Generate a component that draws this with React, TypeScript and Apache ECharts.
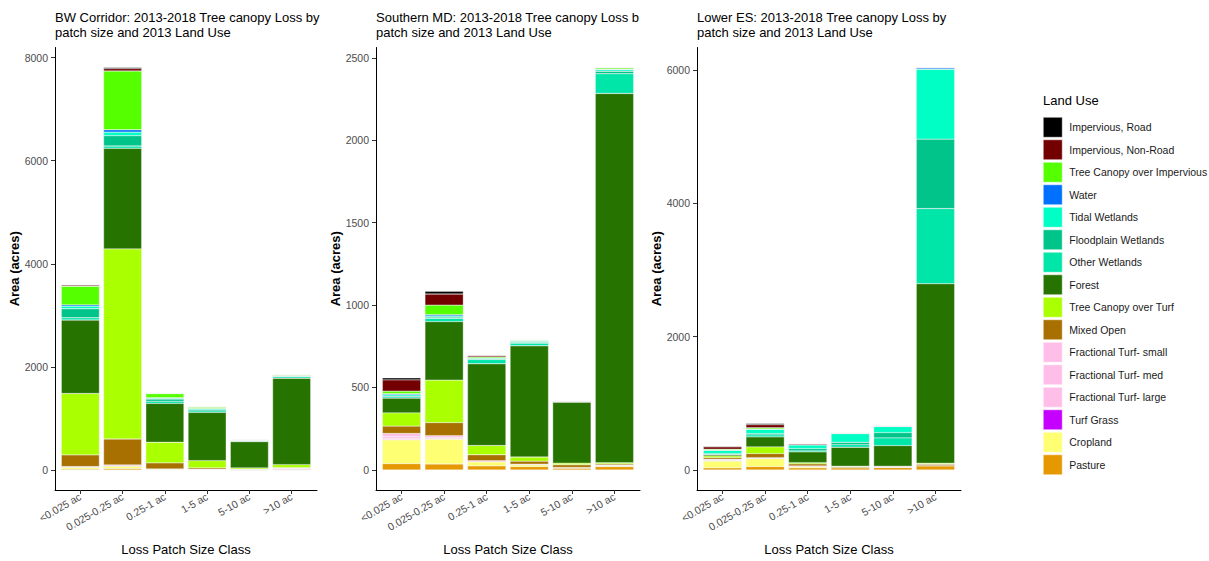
import React, { useEffect, useRef } from "react";
import * as echarts from "echarts";

const FONT = "'Liberation Sans', Arial, Helvetica, sans-serif";

const categories = ["<0.025 ac", "0.025-0.25 ac", "0.25-1 ac", "1-5 ac", "5-10 ac", ">10 ac"];

const landUses = [
  "Impervious, Road",
  "Impervious, Non-Road",
  "Tree Canopy over Impervious",
  "Water",
  "Tidal Wetlands",
  "Floodplain Wetlands",
  "Other Wetlands",
  "Forest",
  "Tree Canopy over Turf",
  "Mixed Open",
  "Fractional Turf- small",
  "Fractional Turf- med",
  "Fractional Turf- large",
  "Turf Grass",
  "Cropland",
  "Pasture",
];

const landUseColors = [
  "#000000",
  "#730000",
  "#55FF00",
  "#0070FF",
  "#00FFC5",
  "#00C48A",
  "#00E6A9",
  "#267300",
  "#AAFF00",
  "#A87000",
  "#FFBEE8",
  "#FFBEE8",
  "#FFBEE8",
  "#C500FF",
  "#FFFF73",
  "#E69800",
];

// rows follow landUses order, columns follow categories order (acres)
const bwCorridorValues = [
  [5, 20, 0, 0, 0, 0],
  [25, 45, 5, 3, 0, 0],
  [361, 1141, 80, 25, 8, 15],
  [25, 45, 5, 3, 0, 0],
  [50, 70, 20, 20, 5, 5],
  [174, 200, 45, 25, 5, 10],
  [45, 45, 40, 30, 12, 30],
  [1425, 1953, 754, 935, 510, 1676],
  [1193, 3688, 400, 140, 25, 58],
  [225, 503, 116, 25, 5, 5],
  [10, 20, 5, 5, 3, 10],
  [0, 0, 0, 0, 0, 10],
  [0, 0, 0, 0, 0, 15],
  [0, 0, 0, 0, 0, 0],
  [40, 50, 10, 5, 3, 3],
  [15, 27, 5, 5, 2, 2],
];

const southernMdValues = [
  [12, 16, 3, 2, 0, 0],
  [68, 67, 8, 3, 0, 2],
  [16, 58, 6, 4, 2, 8],
  [6, 8, 0, 0, 0, 2],
  [8, 7, 5, 8, 0, 10],
  [5, 7, 5, 5, 0, 15],
  [8, 20, 26, 15, 3, 120],
  [89, 355, 496, 675, 370, 2240],
  [80, 258, 56, 25, 10, 8],
  [45, 80, 36, 18, 16, 8],
  [20, 12, 6, 3, 0, 3],
  [10, 5, 0, 0, 0, 0],
  [8, 3, 0, 0, 0, 0],
  [0, 0, 0, 0, 0, 0],
  [145, 151, 26, 12, 5, 5],
  [38, 36, 24, 20, 10, 20],
];

const lowerEsValues = [
  [10, 15, 3, 0, 0, 0],
  [35, 45, 12, 2, 0, 0],
  [15, 20, 5, 3, 0, 5],
  [0, 3, 0, 0, 5, 20],
  [50, 65, 55, 130, 90, 1047],
  [8, 20, 35, 35, 80, 1042],
  [7, 30, 15, 40, 115, 1127],
  [20, 150, 160, 285, 310, 2693],
  [25, 100, 20, 10, 5, 15],
  [25, 60, 30, 10, 10, 20],
  [15, 10, 10, 0, 0, 0],
  [5, 5, 0, 0, 0, 0],
  [5, 0, 0, 0, 0, 0],
  [0, 0, 0, 0, 0, 0],
  [105, 120, 20, 5, 5, 5],
  [30, 50, 30, 30, 35, 60],
];

const bwTicks = [0, 2000, 4000, 6000, 8000];
const smdTicks = [0, 500, 1000, 1500, 2000, 2500];
const lesTicks = [0, 2000, 4000, 6000];

const panelTitles = [
  "BW Corridor: 2013-2018 Tree canopy Loss by\npatch size and 2013 Land Use",
  "Southern MD: 2013-2018 Tree canopy Loss by\npatch size and 2013 Land Use",
  "Lower ES: 2013-2018 Tree canopy Loss by\npatch size and 2013 Land Use",
];

const panelValues = [bwCorridorValues, southernMdValues, lowerEsValues];
const panelTicks = [bwTicks, smdTicks, lesTicks];

// layout (pixels)
const gridLefts = [55, 376, 697];
const gridWidths = [262, 264, 264];
const GRID_TOP = 47.5;
const GRID_HEIGHT = 443.5;

export default function App() {
  const ref = useRef<HTMLDivElement>(null);

  useEffect(() => {
    if (!ref.current) return;
    const chart = echarts.init(ref.current, undefined, { renderer: "svg" });
    const catPositions = categories.map((_, i) => i + 1);

    const grids: any[] = [];
    const xAxes: any[] = [];
    const yAxes: any[] = [];
    const series: any[] = [];
    const graphics: any[] = [];

    panelValues.forEach((values, p) => {
      const totals = categories.map((_, i) => values.reduce((s, row) => s + row[i], 0));
      const maxTotal = Math.max(...totals);
      grids.push({
        left: gridLefts[p],
        top: GRID_TOP,
        width: gridWidths[p],
        height: GRID_HEIGHT,
        containLabel: false,
      });
      xAxes.push({
        type: "value",
        gridIndex: p,
        min: 0.4,
        max: 6.6,
        splitLine: { show: false },
        axisLine: { show: true, onZero: false, lineStyle: { color: "#000", width: 1 } },
        axisTick: {
          show: true,
          customValues: catPositions,
          length: 4,
          lineStyle: { color: "#333", width: 1 },
        },
        axisLabel: {
          customValues: catPositions,
          formatter: (v: number) => categories[Math.round(v) - 1] ?? "",
          rotate: 30,
          color: "#4d4d4d",
          fontSize: 10.5,
          fontFamily: FONT,
          margin: 6,
        },
        name: "Loss Patch Size Class",
        nameLocation: "middle",
        nameGap: 53,
        nameTextStyle: { color: "#000", fontSize: 13, fontFamily: FONT },
      });
      yAxes.push({
        type: "value",
        gridIndex: p,
        min: -0.05 * maxTotal,
        max: 1.05 * maxTotal,
        splitLine: { show: false },
        axisLine: { show: true, onZero: false, lineStyle: { color: "#000", width: 1 } },
        axisTick: {
          show: true,
          customValues: panelTicks[p],
          length: 4,
          lineStyle: { color: "#333", width: 1 },
        },
        axisLabel: {
          customValues: panelTicks[p],
          formatter: (v: number) => String(Math.round(v)),
          color: "#4d4d4d",
          fontSize: 10.5,
          fontFamily: FONT,
          margin: 7,
        },
        name: "Area (acres)",
        nameLocation: "middle",
        nameGap: 32,
        nameTextStyle: { color: "#000", fontSize: 13, fontWeight: "bold", fontFamily: FONT },
      });
      for (let k = landUses.length - 1; k >= 0; k--) {
        series.push({
          type: "bar",
          name: landUses[k],
          xAxisIndex: p,
          yAxisIndex: p,
          stack: "panel" + p,
          barWidth: "90%",
          encode: { x: 1, y: 0 },
          data: values[k].map((v, i) => [v, i + 1]),
          itemStyle: { color: landUseColors[k], borderColor: "#f4f4f4", borderWidth: 0.35 },
          emphasis: { disabled: true },
        });
      }
      graphics.push({
        type: "text",
        left: gridLefts[p],
        top: 9.5,
        style: {
          text: panelTitles[p],
          fill: "#000",
          fontSize: 13,
          fontFamily: FONT,
          lineHeight: 15.5,
          width: p === 1 ? 266 : 400,
          overflow: "truncate",
          ellipsis: "",
        },
      });
    });

    graphics.push({
      type: "text",
      left: 1043,
      top: 94,
      style: { text: "Land Use", fill: "#000", fontSize: 13, fontFamily: FONT },
    });

    chart.setOption({
      animation: false,
      backgroundColor: "#ffffff",
      grid: grids,
      xAxis: xAxes,
      yAxis: yAxes,
      series,
      legend: {
        orient: "vertical",
        left: 1043,
        top: 117,
        padding: 0,
        itemWidth: 19,
        itemHeight: 20,
        itemGap: 2,
        icon: "rect",
        selectedMode: false,
        data: landUses,
        itemStyle: { borderColor: "#ffffff", borderWidth: 0.5 },
        textStyle: { fontSize: 10.5, color: "#1a1a1a", fontFamily: FONT, padding: [0, 0, 0, 2] },
      },
      graphic: graphics,
    });

    return () => chart.dispose();
  }, []);

  return (
    <div
      ref={ref}
      style={{ position: "fixed", left: 0, top: 0, width: "1209px", height: "561px", background: "#fff" }}
    />
  );
}
